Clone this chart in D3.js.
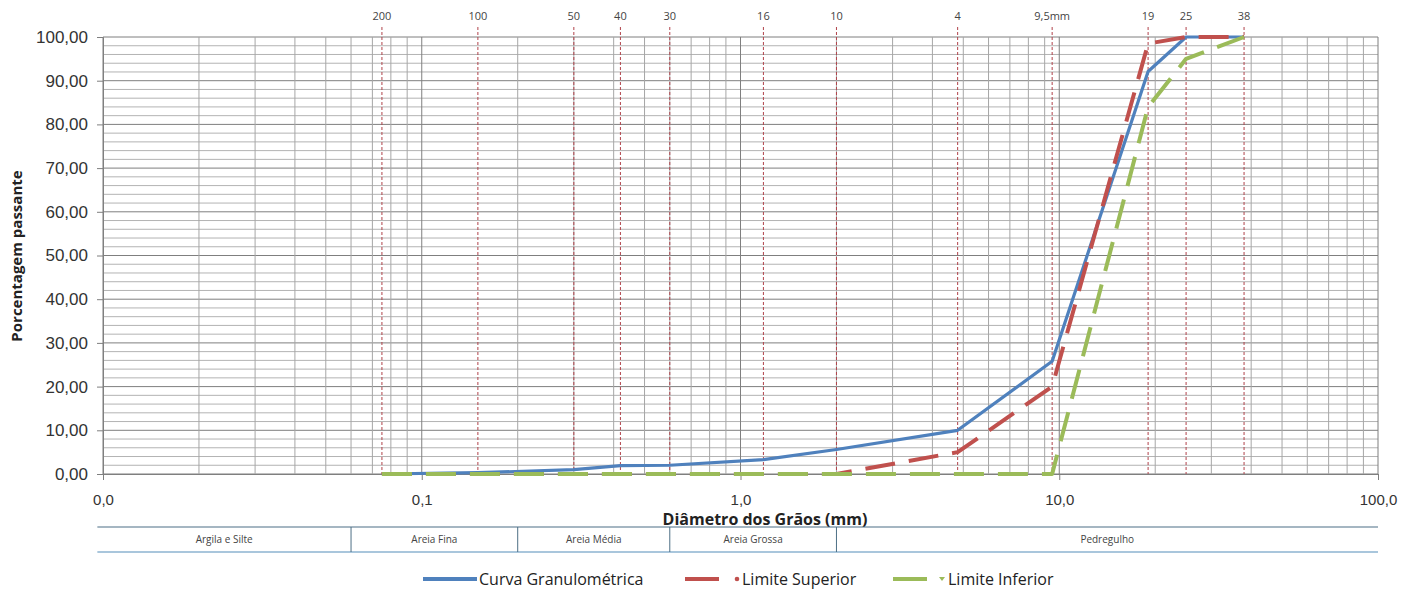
<!DOCTYPE html>
<html>
<head>
<meta charset="utf-8">
<script src="https://cdn.jsdelivr.net/npm/d3@7"></script>
<style>
  body { margin: 0; background: #fff; }
  svg { display: block; font-family: "Open Sans", sans-serif; }
</style>
</head>
<body>
<script>
// Sieve openings (mm) and their labels along the top
var sieveSizes = [0.075, 0.15, 0.3, 0.42, 0.6, 1.18, 2.0, 4.8, 9.5, 19, 25, 38];
var sieveLabels = ["200", "100", "50", "40", "30", "16", "10", "4", "9,5mm", "19", "25", "38"];

// Percent passing for each series
var curva = [0, 0.3, 1.0, 1.9, 2.0, 3.3, 5.6, 10.0, 25.8, 92.1, 100, 100];
var limiteSuperior = [0, 0, 0, 0, 0, 0, 0, 5.0, 20.0, 98.5, 100, 100];
var limiteInferior = [0, 0, 0, 0, 0, 0, 0, 0, 0, 84.0, 95.0, 100];

// Soil classes band below the axis
var soilBounds = [0.0096, 0.06, 0.2, 0.6, 2.0, 100];
var soilNames = ["Argila e Silte", "Areia Fina", "Areia Média", "Areia Grossa", "Pedregulho"];

var xTicks = [0.01, 0.1, 1, 10, 100];

var svgWidth = 1413;
var svgHeight = 592;

var chartMargin = { top: 37, right: 35, bottom: 118, left: 103 };
var chartWidth = svgWidth - chartMargin.left - chartMargin.right;
var chartHeight = svgHeight - chartMargin.top - chartMargin.bottom;

var br = d3.formatLocale({ decimal: ",", thousands: ".", grouping: [3], currency: ["R$", ""] });

var svg = d3.select("body").append("svg")
  .attr("width", svgWidth)
  .attr("height", svgHeight);

var chartGroup = svg.append("g")
  .attr("transform", `translate(${chartMargin.left}, ${chartMargin.top})`);

var x = d3.scaleLog().domain([0.01, 100]).range([0, chartWidth]);
var y = d3.scaleLinear().domain([0, 100]).range([chartHeight, 0]);

// horizontal grid, every 2 %
var hLines = d3.range(0, 101, 2);
chartGroup.append("g").selectAll("line")
  .data(hLines)
  .enter().append("line")
  .attr("x1", 0).attr("x2", chartWidth)
  .attr("y1", d => y(d)).attr("y2", d => y(d))
  .attr("stroke", d => d % 10 === 0 ? "#7f7f7f" : "#b3b3b3")
  .attr("stroke-width", 1);

// vertical grid, 1..9 per decade
var vLines = [];
[0.01, 0.1, 1, 10].forEach(function (dec) {
  for (var k = 1; k <= 9; k++) vLines.push(dec * k);
});
vLines.push(100);
chartGroup.append("g").selectAll("line")
  .data(vLines)
  .enter().append("line")
  .attr("x1", d => x(d)).attr("x2", d => x(d))
  .attr("y1", 0).attr("y2", chartHeight)
  .attr("stroke", d => xTicks.some(t => Math.abs(t - d) < 1e-9) ? "#7f7f7f" : "#a6a6a6")
  .attr("stroke-width", 1);

// sieve markers
var sieveGroup = chartGroup.append("g");
sieveGroup.selectAll("line")
  .data(sieveSizes)
  .enter().append("line")
  .attr("x1", d => x(d)).attr("x2", d => x(d))
  .attr("y1", -10).attr("y2", chartHeight + 3)
  .attr("stroke", "#b0424a")
  .attr("stroke-width", 1)
  .attr("stroke-dasharray", "3,2");
sieveGroup.selectAll("text")
  .data(sieveSizes)
  .enter().append("text")
  .attr("x", d => x(d))
  .attr("y", -17)
  .attr("text-anchor", "middle")
  .attr("font-size", 11)
  .attr("fill", "#444")
  .text((d, i) => sieveLabels[i]);

// axes
var leftAxis = d3.axisLeft(y)
  .tickValues(d3.range(0, 101, 10))
  .tickSize(6)
  .tickPadding(9)
  .tickFormat(br.format(".2f"));
var yAxis = chartGroup.append("g").call(leftAxis);
yAxis.select(".domain").attr("stroke", "#7f7f7f");
yAxis.selectAll(".tick line").attr("stroke", "#7f7f7f");
yAxis.selectAll("text").attr("font-size", 17).attr("fill", "#333");

var bottomAxis = d3.axisBottom(x)
  .tickValues(xTicks)
  .tickSize(6)
  .tickPadding(14)
  .tickFormat(br.format(".1f"));
var xAxis = chartGroup.append("g")
  .attr("transform", `translate(0, ${chartHeight})`)
  .call(bottomAxis);
xAxis.select(".domain").attr("stroke", "#7f7f7f");
xAxis.selectAll(".tick line").attr("stroke", "#7f7f7f");
xAxis.selectAll("text").attr("font-size", 15).attr("fill", "#333");

// series
var series = [
  { name: "Curva Granulométrica", values: curva, color: "#4f81bd", width: 3.2, dash: null },
  { name: "Limite Superior", values: limiteSuperior, color: "#c0504d", width: 4, dash: "30,14" },
  { name: "Limite Inferior", values: limiteInferior, color: "#9bbb59", width: 4, dash: "30,14" }
];

var line = d3.line()
  .x(d => x(d[0]))
  .y(d => y(d[1]));

series.forEach(function (s) {
  chartGroup.append("path")
    .datum(sieveSizes.map((d, i) => [d, s.values[i]]))
    .attr("d", line)
    .attr("fill", "none")
    .attr("stroke", s.color)
    .attr("stroke-width", s.width)
    .attr("stroke-linejoin", "round")
    .attr("stroke-dasharray", s.dash);
});

// axis titles
chartGroup.append("text")
  .attr("x", 662)
  .attr("y", chartHeight + 51)
  .attr("text-anchor", "middle")
  .attr("font-size", 16)
  .attr("font-weight", "bold")
  .attr("fill", "#222")
  .text("Diâmetro dos Grãos (mm)");

svg.append("text")
  .attr("transform", "rotate(-90)")
  .attr("x", -256)
  .attr("y", 22)
  .attr("text-anchor", "middle")
  .attr("font-size", 15)
  .attr("font-weight", "bold")
  .attr("fill", "#222")
  .text("Porcentagem passante");

// soil class band
var bandTop = chartHeight + 53;
var bandBottom = chartHeight + 78;
var band = chartGroup.append("g");
band.append("line")
  .attr("x1", x(soilBounds[0])).attr("x2", x(100))
  .attr("y1", bandTop).attr("y2", bandTop)
  .attr("stroke", "#4d6f85").attr("stroke-width", 1.2);
band.append("line")
  .attr("x1", x(soilBounds[0])).attr("x2", x(100))
  .attr("y1", bandBottom).attr("y2", bandBottom)
  .attr("stroke", "#8db3d0").attr("stroke-width", 1.6);
band.selectAll(".div")
  .data(soilBounds.slice(1, -1))
  .enter().append("line")
  .attr("x1", d => x(d)).attr("x2", d => x(d))
  .attr("y1", bandTop).attr("y2", bandBottom)
  .attr("stroke", "#4d6f85").attr("stroke-width", 1);
band.selectAll("text")
  .data(soilNames)
  .enter().append("text")
  .attr("x", (d, i) => (x(soilBounds[i]) + x(soilBounds[i + 1])) / 2)
  .attr("y", bandTop + 16)
  .attr("text-anchor", "middle")
  .attr("font-size", 10)
  .attr("fill", "#444")
  .text(d => d);

// legend
var legendStarts = [423, 685, 893];
var legend = svg.append("g").attr("transform", "translate(0, 579)");
series.forEach(function (s, i) {
  var g = legend.append("g").attr("transform", `translate(${legendStarts[i]}, 0)`);
  var sampleLen = i === 0 ? 54 : 34;
  g.append("line")
    .attr("x1", 0).attr("x2", sampleLen)
    .attr("y1", 0).attr("y2", 0)
    .attr("stroke", s.color)
    .attr("stroke-width", 4);
  var textX = sampleLen + 2;
  if (i === 1) {
    g.append("circle").attr("cx", 52).attr("cy", 0).attr("r", 2.3).attr("fill", s.color);
    textX = 57;
  } else if (i === 2) {
    g.append("path").attr("d", "M46,-2 L52,-2 L49,2 Z").attr("fill", s.color);
    textX = 55;
  }
  g.append("text")
    .attr("x", textX)
    .attr("y", 0)
    .attr("dy", "0.35em")
    .attr("font-size", 16)
    .attr("fill", "#222")
    .text(s.name);
});
</script>
</body>
</html>
